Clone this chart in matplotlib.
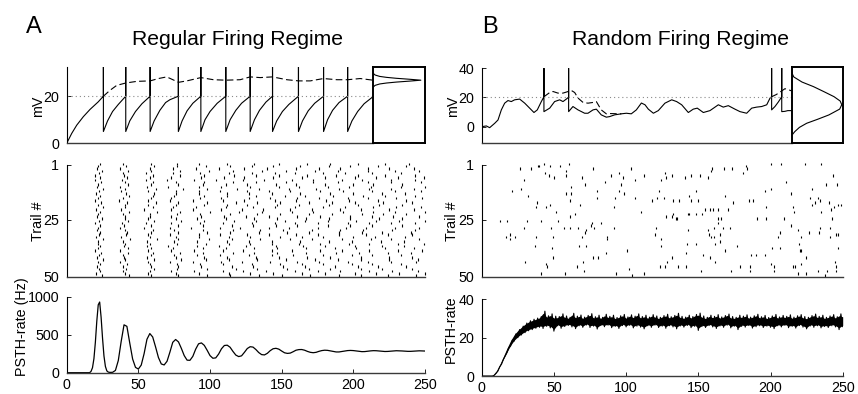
import matplotlib
matplotlib.use('Agg')
import matplotlib.pyplot as plt

plt.rcParams['font.family'] = ['Liberation Sans', 'DejaVu Sans']

# ---------------- data: panel A (regular firing) ----------------
a_vm_t = [0, 3.5, 7, 11.6, 16.3, 22, 25.6, 25.6, 25.6,
          28.5, 32, 36, 41.2, 41.2, 41.2,
          44, 48, 52.5, 58.2, 58.2, 58.2,
          61, 65, 69, 72, 77.9, 77.9, 77.9,
          80.5, 84, 88, 93.6, 93.6, 93.6,
          96.5, 100, 105, 111, 111, 111,
          114, 118, 122, 128, 128, 128,
          131, 134.5, 139, 143.6, 143.6, 143.6,
          146.5, 150.5, 155, 161.7, 161.7, 161.7,
          164.5, 168.5, 173, 179.2, 179.2, 179.2,
          182, 185.5, 190, 196, 196, 196,
          199, 203, 207.5, 213.7]
a_vm_v = [0, 4.2, 7.7, 11.3, 14.4, 17.6, 20, 32.4, 5,
          9.5, 13.5, 16.5, 20, 32.4, 5,
          9.5, 13.5, 16.8, 20, 32.4, 5,
          9.5, 14, 17.3, 18.5, 20, 32.4, 5,
          9.5, 13.8, 17, 20, 32.4, 5,
          10, 13.5, 17, 20, 32.4, 5,
          10, 14, 17, 20, 32.4, 5,
          10, 14, 17.5, 20, 32.4, 5,
          9.5, 13.5, 16.5, 20, 32.4, 5,
          9.5, 13.8, 17, 20, 32.4, 5,
          10, 14, 17.3, 20, 32.4, 5,
          9.5, 13.5, 16.8, 19.8]
a_free_t = [25.6, 30.2, 34.9, 41.2, 48.9, 58.2, 64.0, 69.8, 78, 83.8, 93.6, 102.4,
            111, 121, 128, 135, 143.6, 153.6, 161.8, 169.9, 179.2, 188.5, 196,
            204.8, 213.7]
a_free_v = [20.0, 22.5, 24.6, 25.6, 26.3, 26.5, 27.5, 28.2, 25.9, 26.5, 27.9, 27.0,
            26.8, 27.0, 28.2, 27.9, 28.2, 27.0, 26.5, 26.5, 27.5, 27.0, 27.0,
            27.5, 26.8]
a_hist_mv = [23.6, 24.0, 24.6, 25.2, 25.6, 26.0, 26.4, 26.8, 27.2, 27.6, 28.0,
             28.4, 29.0, 29.6, 30.0]
a_hist_p = [0.0, 0.01, 0.04, 0.13, 0.26, 0.45, 0.70, 0.92, 0.70, 0.45, 0.26,
            0.13, 0.04, 0.01, 0.0]

raster_a = [
    [23.5, 39, 59, 77, 92, 112, 131, 148, 168, 184, 203, 222, 239],
    [22, 41.5, 61, 77, 97, 114, 129, 144, 163, 183, 198, 217, 237],
    [21, 37.5, 58, 74, 90, 106, 124, 140, 160, 176, 191, 210, 225, 242],
    [24.5, 43, 59, 79, 99, 116, 136, 153, 173, 189, 210, 229, 246],
    [22.5, 39.5, 55, 74, 93, 113, 129, 145, 159, 179, 194, 213, 233],
    [20, 40, 60, 79, 96, 117, 132, 148, 168, 188, 203, 222, 243],
    [23, 42, 58, 73, 94, 110, 124, 144, 164, 180, 201, 216, 231, 249],
    [19.5, 38.5, 55, 70, 89, 104, 123, 138, 157, 172, 192, 206, 226, 243],
    [24, 40.5, 60, 76, 96, 116, 132, 153, 172, 189, 210, 226, 247],
    [22, 42.5, 59, 78, 95, 111, 126, 146, 160, 180, 200, 214, 234],
    [21, 37, 56, 71, 92, 108, 128, 148, 162, 182, 197, 212, 233, 250],
    [25, 41, 62, 81, 98, 119, 134, 155, 174, 190, 211, 226, 242],
    [22.5, 38, 57, 76, 92, 107, 126, 141, 156, 177, 193, 213, 229, 247],
    [20.5, 41.5, 61, 76, 92, 112, 127, 143, 163, 184, 200, 220, 236],
    [23.5, 43.5, 60, 75, 96, 112, 132, 152, 166, 186, 207, 222, 243],
    [22, 39, 59, 73, 93, 108, 127, 142, 161, 176, 196, 210, 230, 248],
    [19.5, 36.5, 57, 72, 88, 109, 124, 145, 160, 181, 197, 217, 237],
    [24, 42, 62, 78, 98, 118, 133, 149, 169, 185, 201, 221, 241],
    [21.5, 41, 57, 76, 96, 112, 126, 147, 162, 183, 203, 218, 234],
    [25.5, 40.5, 60, 74, 90, 111, 130, 145, 159, 179, 194, 214, 230, 247],
    [20.5, 38, 54, 73, 88, 108, 122, 137, 156, 171, 191, 205, 225, 242],
    [23, 43.5, 63, 79, 100, 120, 136, 157, 172, 193, 214, 229, 250],
    [22, 39.5, 58, 77, 93, 114, 133, 149, 169, 185, 206, 221, 237],
    [21, 41, 58, 73, 94, 110, 125, 141, 161, 177, 198, 213, 228, 246],
    [24.5, 40.5, 57, 76, 91, 111, 131, 147, 167, 183, 198, 218, 234],
    [22.5, 42.5, 61, 80, 96, 117, 132, 152, 166, 182, 202, 216, 232, 250],
    [20, 38.5, 55, 73, 93, 109, 129, 145, 159, 175, 196, 211, 226, 243],
    [23.5, 40, 59, 78, 95, 115, 130, 146, 161, 182, 198, 213, 234],
    [22, 37.5, 54, 72, 87, 107, 121, 141, 155, 175, 195, 209, 229, 246],
    [21, 40.5, 60, 75, 95, 116, 135, 151, 171, 191, 207, 227, 243],
    [23, 42, 59, 78, 98, 114, 134, 154, 169, 190, 206, 220, 240],
    [22.5, 41.5, 57, 72, 92, 107, 126, 141, 160, 175, 190, 209, 224, 241],
    [20.5, 38, 58, 76, 92, 113, 128, 149, 164, 179, 200, 215, 236],
    [25, 44, 63, 78, 99, 115, 135, 156, 171, 192, 212, 226, 246],
    [22, 39, 56, 75, 91, 112, 127, 143, 163, 183, 199, 219, 235],
    [21.5, 41, 58, 77, 97, 113, 128, 143, 162, 177, 197, 211, 231, 249],
    [23.5, 40, 56, 71, 91, 106, 125, 146, 165, 180, 201, 220, 235],
    [22, 42.5, 59, 74, 95, 111, 131, 147, 167, 187, 202, 222, 242],
    [20, 37, 57, 73, 89, 109, 123, 143, 157, 177, 192, 211, 231, 248],
    [24, 43, 60, 79, 95, 116, 131, 147, 167, 188, 204, 224, 240],
    [22.5, 39.5, 59, 75, 91, 107, 127, 143, 158, 179, 199, 213, 233],
    [21, 40, 56, 76, 96, 112, 132, 148, 168, 184, 205, 225, 241],
    [25, 41, 61, 80, 97, 113, 133, 153, 173, 189, 205, 225, 245],
    [22, 37.5, 57, 72, 88, 108, 122, 142, 161, 176, 196, 210, 226, 244],
    [23.5, 42, 58, 77, 93, 109, 129, 149, 164, 179, 199, 213, 233],
    [21, 39, 59, 78, 94, 115, 130, 151, 166, 187, 203, 217, 237],
    [22.5, 41.5, 61, 77, 98, 118, 133, 154, 169, 184, 205, 220, 241],
    [23.5, 39.5, 58, 73, 89, 109, 123, 139, 159, 175, 191, 211, 227, 245],
    [20.5, 40.5, 57, 76, 92, 113, 128, 144, 164, 180, 201, 216, 232, 250],
    [24.5, 43.5, 59, 78, 98, 114, 134, 150, 170, 190, 205, 224, 244],
]

psth_a_t = [0, 4, 8, 12, 16, 17, 18, 19, 20, 21, 22, 23, 24, 25, 26, 27, 28, 29, 30, 32,
            34, 36, 38, 40, 42, 44, 46, 48, 50, 52, 54, 56, 58, 60, 62, 64, 66, 68, 70,
            72, 74, 76, 78, 80, 82, 84, 86, 88, 90, 92, 94, 96, 98, 100, 102, 104, 106,
            108, 110, 112, 114, 116, 118, 120, 122, 124, 126, 128, 130, 132, 134, 136,
            138, 140, 142, 144, 146, 148, 150, 152, 154, 156, 158, 160, 162, 164, 166,
            168, 170, 172, 174, 176, 178, 180, 182, 184, 186, 188, 190, 192, 194, 196,
            198, 200, 202, 204, 206, 208, 210, 212, 214, 216, 218, 220, 222, 224, 226,
            228, 230, 232, 234, 236, 238, 240, 242, 244, 246, 248, 250]
psth_a_v = [0, 0, 0, 0, 0, 18, 66, 185, 400, 678, 893, 930, 731, 455, 220, 83, 24, 8, 4, 5,
            30, 160, 410, 630, 610, 390, 180, 70, 48, 100, 250, 440, 515, 470, 340, 200,
            115, 102, 150, 270, 400, 437, 405, 320, 225, 165, 163, 215, 310, 380, 392,
            360, 295, 225, 190, 195, 245, 315, 358, 362, 335, 280, 232, 212, 222, 268,
            318, 342, 337, 305, 265, 238, 234, 255, 290, 315, 321, 310, 285, 262, 254,
            258, 276, 296, 304, 305, 296, 280, 268, 263, 268, 281, 291, 296, 294, 287,
            279, 273, 273, 279, 286, 291, 293, 291, 286, 280, 277, 278, 283, 287, 290,
            289, 286, 282, 279, 280, 283, 287, 289, 288, 286, 283, 281, 281, 283, 286,
            288, 287, 285]

# ---------------- data: panel B (random firing) ----------------
b_vm_t = [0.2, 3.2, 5.5, 9.0, 11.3, 13.6, 15.9, 18.2, 20.5, 22.8, 26.3, 29.8, 33.2,
          36.2, 38.5, 41.3, 43.1, 43.1, 43.1,
          47.1, 50.5, 54.0, 56.3, 58.6, 60.2, 60.2, 60.2,
          63.2, 66.7, 71.3, 73.6, 77.1, 79.4, 82.8, 86.3, 88.6, 92.1, 96.7, 100.2,
          103.6, 107.1, 110.6, 113.1, 115.4, 118.9, 122.3, 126.9, 131.6, 135.0,
          138.5, 143.1, 146.5, 149.3, 153.5, 158.1, 163.9, 167.3, 170.8, 175.4,
          178.9, 183.5, 187.0, 190.4, 193.9, 197.4, 199.7, 200.8, 200.8, 200.8,
          203.1, 205.5, 207.8, 207.8, 207.8, 210, 212, 214.7]
b_vm_v = [0, 0.5, -0.7, 2.3, 4.6, 11.5, 16.1, 17.9, 17.2, 18.4, 18.9, 16.1, 12.7,
          9.7, 11.5, 17.2, 20.5, 40, 10.3,
          12.7, 17.2, 18.4, 17.2, 18.9, 20.2, 40, 10.3,
          13.8, 11.5, 9.2, 9.2, 11.5, 12.0, 8.1, 6.5, 6.9, 8.1, 8.8, 9.2,
          8.8, 11.5, 16.2, 15.0, 12.0, 9.2, 11.0, 16.1, 18.4, 17.2,
          15.0, 9.7, 12.0, 12.7, 9.7, 11.0, 15.0, 13.4, 14.4, 12.0,
          10.3, 9.2, 12.7, 13.4, 13.8, 15.0, 19.6, 20.5, 40, 11.5,
          13.8, 17.0, 20.5, 40, 10.3, 10.5, 11.0, 11.0]
b_free1_t = [43.1, 47.1, 49.4, 52.8, 56.3, 58.6, 62.1, 64.4, 66.7, 70.2, 73.6, 77.1,
             79.4, 82.8, 86.3, 88.6, 92.1, 96.7]
b_free1_v = [20.5, 23.4, 24.1, 23.0, 23.0, 23.7, 24.8, 23.4, 19.6, 16.6, 16.1, 16.6,
             17.2, 11.5, 8.8, 9.0, 8.9, 8.8]
b_free2_t = [200.8, 204, 207.8, 210, 212, 214.7]
b_free2_v = [20.5, 22, 24.5, 26, 25.5, 24.5]
b_hist_mv = [37, 34, 30.5, 27.4, 24, 20.5, 17.5, 15, 12, 8, 5, 2.3, -0.5, -3.4, -6]
b_hist_p = [0.0, 0.04, 0.2, 0.42, 0.62, 0.82, 0.94, 0.97, 0.93, 0.72, 0.50, 0.29,
            0.15, 0.06, 0.0]

raster_b_t = [38.9, 43.1, 47.0, 53.9, 60.4, 159.7, 183.2, 200.5, 207.4, 223.6, 235.1,
              26.3, 33.9, 39.4, 58.6, 77.0, 103.1, 126.6, 159.0, 167.5, 173.3, 180.9, 183.9,
              43.6, 46.6, 50.0, 58.6, 69.6, 89.7, 95.0, 97.8, 105.9, 112.1, 123.9, 127.8,
              132.0, 140.5, 145.1, 150.9, 156.7, 243.2,
              29.0, 62.0, 71.3, 85.1, 96.2, 210.9, 238.6, 246.2, 200.5,
              21.2, 26.9, 32.0, 58.6, 61.6, 80.0, 95.0, 98.3, 122.5, 148.6, 196.4, 214.4, 228.9,
              38.3, 44.7, 47.0, 60.9, 67.8, 80.0, 92.0, 105.9, 117.9, 121.3, 126.2, 132.4,
              136.3, 143.3, 144.7, 149.7, 168.7, 174.0, 184.8, 188.0, 227.5, 230.5, 232.8,
              234.4, 240.4, 246.7, 248.5, 228.9,
              37.8, 51.6, 60.9, 64.3, 91.6, 110.5, 127.8, 132.7, 135.4, 142.8, 148.6, 152.5,
              154.3, 157.8, 160.1, 163.6, 165.9, 170.5, 197.1, 215.5, 216.2, 235.1, 242.1, 243.9,
              12.9, 17.5, 31.3, 40.8, 52.8, 76.6, 82.3, 131.7, 134.7, 143.5, 163.6, 163.6,
              190.6, 197.1, 209.1, 242.8,
              29.0, 47.7, 56.7, 60.9, 66.6, 71.9, 75.9, 77.5, 91.6, 120.9, 142.8, 156.7,
              160.6, 167.0, 172.1, 213.9, 219.0, 234.4, 240.9,
              17.0, 19.3, 19.8, 23.3, 37.8, 49.3, 69.6, 71.3, 87.0, 86.5, 119.7, 123.9, 157.3,
              158.5, 160.8, 164.7, 205.1, 206.3, 221.3, 227.0, 233.5, 240.9, 245.5, 246.7,
              37.1, 48.6, 67.1, 72.4, 123.9, 142.3, 148.6, 161.3, 164.7, 176.7, 201.0, 206.3,
              219.4, 220.6, 246.7,
              49.3, 77.0, 86.3, 100.6, 132.0, 141.2, 153.2, 158.3, 168.2, 186.7, 189.7, 195.9,
              221.3, 224.7,
              29.7, 44.7, 45.4, 66.2, 70.1, 80.5, 123.2, 126.6, 128.5, 135.9, 141.7, 161.3,
              178.6, 185.5, 200.5, 202.4, 215.5, 216.7, 221.3, 244.4, 245.1,
              41.3, 57.9, 70.8, 93.2, 101.7, 104.0, 112.1, 152.0, 172.8, 185.5, 202.1, 219.0,
              224.7, 232.8, 237.4, 239.1, 245.5]
raster_b_trial = [2, 1, 2, 2, 1, 3, 2, 1, 1, 1, 1,
                  3, 3, 2, 4, 3, 3, 5, 4, 3, 3, 5, 3,
                  5, 6, 7, 6, 7, 6, 5, 7, 8, 6, 8, 7,
                  6, 7, 6, 6, 7, 6,
                  8, 11, 10, 9, 10, 9, 10, 10, 12,
                  13, 12, 15, 14, 14, 13, 13, 14, 13, 13, 13, 14, 12,
                  18, 20, 19, 17, 19, 16, 16, 16, 17, 16, 16, 17,
                  17, 15, 17, 17, 15, 18, 17, 17, 16, 18, 16,
                  17, 18, 19, 19, 19,
                  20, 22, 24, 23, 20, 22, 24, 23, 25, 23, 23, 23,
                  21, 21, 21, 21, 25, 21, 20, 20, 22, 22, 21, 20,
                  26, 26, 26, 26, 26, 27, 27, 24, 25, 23, 25, 27,
                  25, 25, 25, 25,
                  29, 29, 29, 29, 29, 30, 28, 29, 29, 29, 30, 30,
                  29, 29, 29, 28, 30, 29, 29,
                  33, 32, 34, 33, 33, 33, 33, 31, 33, 34, 32, 34, 32,
                  33, 33, 32, 33, 31, 33, 31, 31, 33, 32, 32,
                  37, 38, 37, 37, 37, 36, 36, 36, 35, 37, 38, 38,
                  36, 39, 38,
                  42, 42, 40, 39, 42, 40, 41, 42, 39, 41, 41, 41,
                  39, 42,
                  44, 45, 46, 46, 44, 42, 46, 46, 44, 46, 46, 44,
                  46, 46, 45, 46, 46, 46, 45, 44, 46,
                  49, 49, 48, 49, 47, 50, 49, 48, 48, 48, 48, 49,
                  49, 48, 50, 48, 48]

# PSTH B: lower / upper extremes of the noisy trace every 2.5 ms
psth_b_t = [i * 2.5 for i in range(101)]
psth_b_low = [0, 0, 0, 0, 1.5, 4.8, 8.6, 12.2, 15.6, 18.2, 20.0, 21.4, 22.6, 23.6, 24.2,
              24.9, 25.4, 24.8, 25.9, 25.1, 23.4,
              26.2, 24.9, 25.8, 26.4, 25.6, 24.7, 26.2, 25.4, 26.6, 25.3, 26.0, 24.5, 26.3,
              25.7, 26.5, 25.2, 25.9, 24.8, 26.3, 25.6, 26.4, 25.1, 26.0, 25.5, 24.6, 26.2,
              25.4, 26.5, 25.3, 26.0, 24.9, 26.2, 25.6, 24.6, 26.1, 25.5, 26.4, 25.2, 25.9,
              23.8, 25.8, 25.3, 26.3, 25.6, 24.8, 26.1, 25.4, 26.5, 25.1, 26.0, 24.2, 25.9,
              25.5, 26.3, 25.0, 25.7, 26.2, 25.3, 26.0, 25.4, 24.7, 26.2, 25.6, 26.4, 25.2,
              25.9, 25.0, 26.3, 25.5, 24.6, 26.1, 25.4, 26.2, 25.1, 25.8, 25.3, 26.2, 25.6,
              24.2, 25.7]
psth_b_up = [0, 0, 0, 0.4, 2.6, 6.2, 10.4, 14.8, 18.8, 22.0, 24.2, 26.0, 27.6, 28.8, 29.6,
             30.2, 31.0, 33.8, 31.4, 32.4, 31.2,
             31.0, 32.4, 31.3, 30.6, 32.7, 31.2, 31.8, 30.7, 31.6, 32.5, 30.9, 31.7, 30.6,
             32.2, 31.1, 31.7, 30.5, 31.4, 32.1, 30.8, 31.9, 31.2, 32.4, 31.0, 31.7, 30.7,
             32.0, 31.3, 30.6, 31.5, 32.2, 30.9, 31.6, 32.7, 31.1, 30.7, 31.7, 31.0, 32.1,
             32.8, 31.3, 30.6, 31.7, 31.1, 32.0, 30.8, 31.5, 32.3, 31.0, 30.6, 31.7, 31.2,
             31.9, 30.7, 31.4, 32.2, 30.9, 31.6, 30.5, 31.3, 32.1, 30.8, 31.6, 31.1, 31.9,
             30.7, 31.4, 32.0, 31.0, 30.6, 31.5, 32.3, 31.1, 31.7, 30.6, 31.3, 32.0, 30.9,
             32.4, 31.6]

titles = ["Regular Firing Regime", "Random Firing Regime"]
panel_letters = ["A", "B"]

# ---------------- layout helpers ----------------
W, H = 858, 394
fig = plt.figure(figsize=(W / 100, H / 100), dpi=100)


def rect(l, t, r, b):
    return [l / W, 1 - b / H, (r - l) / W, (b - t) / H]


TICK_FS = 10.3


def style(ax, xpad=3.5, ypad=5.5):
    ax.spines['top'].set_visible(False)
    ax.spines['right'].set_visible(False)
    ax.spines['left'].set_color('k')
    ax.spines['bottom'].set_color('#3a3a3a')
    ax.spines['left'].set_linewidth(0.8)
    ax.spines['bottom'].set_linewidth(1.0)
    ax.tick_params(axis='y', direction='in', length=3, width=0.6, labelsize=TICK_FS, pad=ypad)
    ax.tick_params(axis='x', direction='in', length=3, width=0.6, labelsize=TICK_FS, pad=xpad)
    ax.patch.set_alpha(0)


def inset(ax):
    for s in ax.spines.values():
        s.set_visible(True)
        s.set_linewidth(1.4)
        s.set_color('k')
    ax.set_xticks([])
    ax.set_yticks([])


dot_ls = (0, (1, 2.7))
dash_ls = (0, (6, 3))

# ---------------- Panel A ----------------
axA1 = fig.add_axes(rect(66.7, 67, 373, 143.3))
style(axA1)
axA1.plot(a_vm_t, a_vm_v, color='k', lw=0.8)
axA1.plot(a_free_t, a_free_v, color='k', lw=0.8, ls=dash_ls)
axA1.axhline(20, color='#8a8a8a', lw=0.8, ls=dot_ls)
axA1.set_xlim(0, 213.7)
axA1.set_ylim(0, 32.4)
axA1.set_xticks([])
axA1.set_yticks([0, 20])

axA1i = fig.add_axes(rect(373, 67, 425, 143.3))
axA1i.plot(a_hist_p, a_hist_mv, color='k', lw=0.8)
axA1i.set_xlim(0, 1)
axA1i.set_ylim(0, 32.4)
inset(axA1i)

axA2 = fig.add_axes(rect(66.7, 165, 425, 276.7))
style(axA2)
for k, row in enumerate(raster_a, start=1):
    axA2.vlines(row, k - 1.0, k + 0.05, color='k', lw=0.8, clip_on=False)
axA2.set_xlim(0, 250)
axA2.set_ylim(50, 1)
axA2.set_xticks([])
axA2.set_yticks([1, 25, 50])

axA3 = fig.add_axes(rect(66.7, 296.7, 425, 372.7))
style(axA3)
axA3.plot(psth_a_t, psth_a_v, color='k', lw=0.9)
axA3.set_xlim(0, 250)
axA3.set_ylim(0, 1000)
axA3.set_xticks([0, 50, 100, 150, 200, 250])
axA3.set_yticks([0, 500, 1000])

# ---------------- Panel B ----------------
axB1 = fig.add_axes(rect(481.7, 68.3, 791.7, 143.3))
style(axB1)
axB1.plot(b_vm_t, b_vm_v, color='k', lw=0.8)
axB1.plot(b_free1_t, b_free1_v, color='k', lw=0.8, ls=dash_ls)
axB1.plot(b_free2_t, b_free2_v, color='k', lw=0.8, ls=dash_ls)
axB1.axhline(20, color='#8a8a8a', lw=0.8, ls=dot_ls)
axB1.set_xlim(0, 214.7)
axB1.set_ylim(-11.4, 40)
axB1.set_xticks([])
axB1.set_yticks([0, 20, 40])

axB1i = fig.add_axes(rect(791.7, 66.7, 843.3, 143.3))
axB1i.plot(b_hist_p, b_hist_mv, color='k', lw=0.8)
axB1i.set_xlim(0, 1)
axB1i.set_ylim(-11.4, 41)
inset(axB1i)

axB2 = fig.add_axes(rect(481.7, 165, 842.7, 276.7))
style(axB2)
axB2.vlines(raster_b_t, [k - 1.0 for k in raster_b_trial], [k + 0.05 for k in raster_b_trial],
            color='k', lw=0.8, clip_on=False)
axB2.set_xlim(0, 250)
axB2.set_ylim(50, 1)
axB2.set_xticks([])
axB2.set_yticks([1, 25, 50])

axB3 = fig.add_axes(rect(481.7, 299.3, 842.7, 376))
style(axB3)
# noisy trace drawn as a zig-zag between the read lower / upper extremes
zz_t, zz_v = [], []
for t, lo, up in zip(psth_b_t, psth_b_low, psth_b_up):
    zz_t += [t, t + 1.25]
    zz_v += [lo, up]
axB3.plot(zz_t, zz_v, color='k', lw=0.8)
axB3.fill_between(psth_b_t,
                  [0.5 * (lo + up) - 0.38 * (up - lo) for lo, up in zip(psth_b_low, psth_b_up)],
                  [0.5 * (lo + up) + 0.38 * (up - lo) for lo, up in zip(psth_b_low, psth_b_up)],
                  color='k', lw=0)
axB3.set_xlim(0, 250)
axB3.set_ylim(0, 40)
axB3.set_xticks([0, 50, 100, 150, 200, 250])
axB3.set_yticks([0, 20, 40])

# ---------------- texts ----------------
def ftext(x, y, s, **kw):
    fig.text(x / W, 1 - y / H, s, **kw)


ylab_fs = 10.3
ftext(38, 106, "mV", rotation=90, ha='center', va='center', fontsize=ylab_fs)
ftext(37.5, 221, "Trail #", rotation=90, ha='center', va='center', fontsize=ylab_fs)
ftext(22, 327, "PSTH-rate (Hz)", rotation=90, ha='center', va='center', fontsize=ylab_fs)
ftext(453, 106, "mV", rotation=90, ha='center', va='center', fontsize=ylab_fs)
ftext(452, 221, "Trail #", rotation=90, ha='center', va='center', fontsize=ylab_fs)
ftext(451, 329, "PSTH-rate", rotation=90, ha='center', va='center', fontsize=ylab_fs)

ftext(34, 33.3, panel_letters[0], ha='center', va='baseline', fontsize=17)
ftext(490, 33.3, panel_letters[1], ha='center', va='baseline', fontsize=17)
ftext(237.5, 45, titles[0], ha='center', va='baseline', fontsize=15.2)
ftext(680.8, 45, titles[1], ha='center', va='baseline', fontsize=15.2)

fig.savefig('out.png', dpi=100)
